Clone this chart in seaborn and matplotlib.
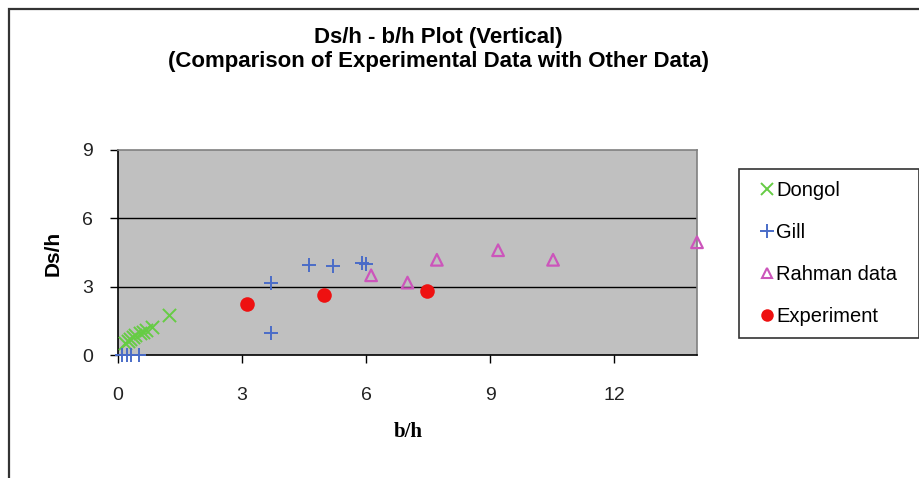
import matplotlib
matplotlib.use("Agg")
import matplotlib.pyplot as plt
import seaborn as sns
import pandas as pd
from matplotlib.lines import Line2D
from matplotlib.patches import Rectangle

# ---- data ----
dongol_x = [0.18, 0.24, 0.30, 0.36, 0.42, 0.52, 0.60, 0.68, 0.82, 1.23]
dongol_y = [0.52, 0.62, 0.72, 0.80, 0.88, 0.95, 1.02, 1.10, 1.24, 1.75]
gill_x = [0.10, 0.22, 0.32, 0.50, 3.70, 3.70, 4.63, 5.19, 5.90, 5.99]
gill_y = [0.0, 0.0, 0.0, 0.0, 3.14, 0.95, 3.95, 3.90, 4.05, 3.98]
rahman_x = [6.12, 7.00, 7.71, 9.19, 10.52, 14.0]
rahman_y = [3.50, 3.18, 4.18, 4.60, 4.18, 4.95]
exp_x = [3.11, 4.98, 7.47]
exp_y = [2.22, 2.62, 2.82]

series_names = ["Dongol", "Gill", "Rahman data", "Experiment"]
x_ticks = [0, 3, 6, 9, 12]
y_ticks = [0, 3, 6, 9]
title_lines = ["Ds/h - b/h Plot (Vertical)",
               "(Comparison of Experimental Data with Other Data)"]

c_dongol = "#66CC44"
c_gill = "#4A6CC8"
c_rahman = "#CC55BB"
c_exp = "#EE1111"

plt.rcParams["font.family"] = ["Liberation Sans", "DejaVu Sans"]

W, H = 919, 478
fig = plt.figure(figsize=(W / 100, H / 100), dpi=100)
fig.patch.set_facecolor("white")
ax = fig.add_axes([118 / W, 1 - 355 / H, (697 - 118) / W, (355 - 150) / H])
ax.set_facecolor("#C0C0C0")

df_d = pd.DataFrame({"x": dongol_x, "y": dongol_y})
df_g = pd.DataFrame({"x": gill_x, "y": gill_y})
df_r = pd.DataFrame({"x": rahman_x, "y": rahman_y})
df_e = pd.DataFrame({"x": exp_x, "y": exp_y})

for y in [3, 6]:
    ax.axhline(y, color="black", lw=1.0, zorder=1)

sns.scatterplot(data=df_d, x="x", y="y", ax=ax, marker="x", color=c_dongol,
                s=90, linewidth=1.4, clip_on=False, zorder=3, legend=False)
sns.scatterplot(data=df_g, x="x", y="y", ax=ax, marker="+", color=c_gill,
                s=110, linewidth=1.4, clip_on=False, zorder=3, legend=False)
sns.scatterplot(data=df_r, x="x", y="y", ax=ax, marker="^", facecolor="none",
                edgecolor=c_rahman, s=70, linewidth=1.6, clip_on=False,
                zorder=3, legend=False)
sns.scatterplot(data=df_e, x="x", y="y", ax=ax, marker="o", color=c_exp,
                edgecolor=c_exp, s=110, linewidth=0, clip_on=False, zorder=3,
                legend=False)

ax.set_xlim(0, 14)
ax.set_ylim(0, 9)
ax.set_xticks(x_ticks)
ax.set_yticks(y_ticks)
ax.set_xticklabels([str(t) for t in x_ticks])
ax.set_yticklabels([str(t) for t in y_ticks])
ax.set_xlabel("")
ax.set_ylabel("")
ax.grid(False)
ax.tick_params(axis="both", direction="out", length=6, width=1, color="black",
               labelsize=14, labelcolor="#222222")
ax.tick_params(axis="x", pad=17)
ax.tick_params(axis="y", pad=12)
ax.spines["left"].set_color("black")
ax.spines["bottom"].set_color("black")
ax.spines["top"].set_color("#808080")
ax.spines["right"].set_color("#808080")
for s in ax.spines.values():
    s.set_linewidth(1.2)
    s.set_zorder(2)

# titles and axis labels
fig.text(438 / W, 1 - 37 / H, title_lines[0], ha="center", va="center",
         fontsize=16, fontweight="bold")
fig.text(438 / W, 1 - 62 / H, title_lines[1], ha="center", va="center",
         fontsize=16, fontweight="bold")
fig.text(408 / W, 1 - 432 / H, "b/h", ha="center", va="center",
         fontsize=15, fontweight="bold", family=["Liberation Serif", "DejaVu Serif"])
fig.text(53 / W, 1 - 253 / H, "Ds/h", ha="center", va="center",
         fontsize=15, fontweight="bold", rotation=90)

# legend
handles = [
    Line2D([], [], ls="none", marker="x", color=c_dongol, markersize=8, mew=1.4),
    Line2D([], [], ls="none", marker="+", color=c_gill, markersize=10, mew=1.4),
    Line2D([], [], ls="none", marker="^", markerfacecolor="none",
           markeredgecolor=c_rahman, markersize=7, mew=1.5),
    Line2D([], [], ls="none", marker="o", color=c_exp, markersize=9, mew=0),
]
leg = fig.legend(handles, series_names, loc="upper left",
                 bbox_to_anchor=(739 / W, 1 - 174 / H, (919 - 739) / W, 0.01),
                 mode="expand", frameon=True, fancybox=False, fontsize=14.5,
                 handlelength=1.6, handletextpad=-0.35, labelspacing=1.13,
                 borderpad=0.6, borderaxespad=0)
leg.get_frame().set_edgecolor("black")
leg.get_frame().set_linewidth(1.2)

# outer chart border
fig.patches.append(Rectangle((9 / W, -0.2), 1.2, 1.2 - 9 / H + 0.0,
                             transform=fig.transFigure, fill=False,
                             edgecolor="#333333", lw=1.6, zorder=0))

fig.savefig("out.png", dpi=100)
